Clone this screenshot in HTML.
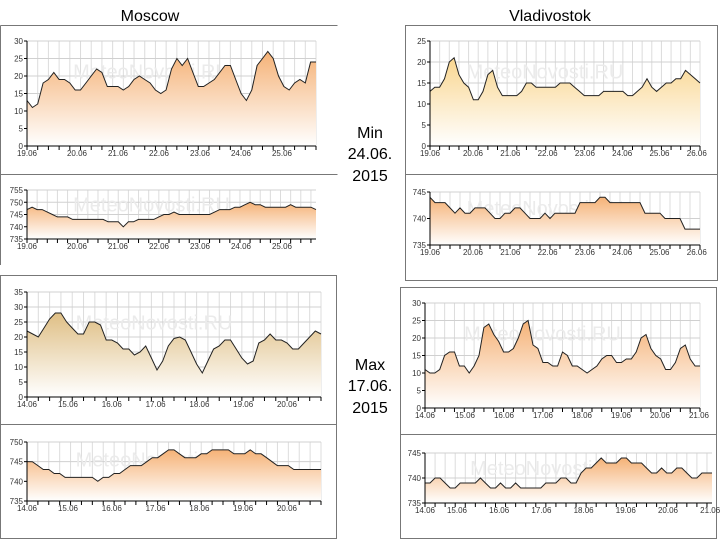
<!DOCTYPE html>
<html><head><meta charset="utf-8"><style>
html,body{margin:0;padding:0;background:#fff;}
svg{display:block;font-family:"Liberation Sans",sans-serif;}
</style></head><body>
<svg id="root" width="720" height="540" viewBox="0 0 720 540">
<defs>
<linearGradient id="gOrange" x1="0" y1="0" x2="0" y2="1"><stop offset="0" stop-color="#f5b277"/><stop offset="1" stop-color="#ffffff"/></linearGradient>
<linearGradient id="gYellow" x1="0" y1="0" x2="0" y2="1"><stop offset="0" stop-color="#f9d690"/><stop offset="1" stop-color="#ffffff"/></linearGradient>
<linearGradient id="gTan" x1="0" y1="0" x2="0" y2="1"><stop offset="0" stop-color="#dfbf85"/><stop offset="1" stop-color="#ffffff"/></linearGradient>
</defs>
<text x="150" y="21" font-size="16" text-anchor="middle">Moscow</text>
<text x="550" y="21" font-size="16" text-anchor="middle">Vladivostok</text>
<g font-size="16" text-anchor="middle">
<text x="370" y="138">Min</text><text x="370" y="159">24.06.</text><text x="370" y="181">2015</text></g>
<g font-size="16" text-anchor="middle">
<text x="370" y="370">Max</text><text x="370" y="391">17.06.</text><text x="370" y="413">2015</text></g>
<g fill="none" stroke="#777" stroke-width="1">
<path d="M0.5 25.5H337.5M0.5 174.5H337.5M0.5 25.5V265"/>
<rect x="405.5" y="25.5" width="312" height="255"/><path d="M405.5 174.5H717.5"/>
<rect x="0.5" y="275.5" width="336" height="263"/><path d="M0.5 424.5H336.5"/>
<rect x="400.5" y="287.5" width="316" height="251"/><path d="M400.5 434.5H716.5"/>
</g>
</svg>
<script>
const mskMinTemp=[13,11,12,18,19,21,19,19,18,16,16,18,20,22,21,17,17,17,16,17,19,20,19,18,16,15,16,22,25,23,25,21,17,17,18,19,21,23,23,19,15,13,16,23,25,27,25,20,17,16,18,19,18,24,24];
const mskMinPres=[747,748,747,747,746,745,744,744,744,743,743,743,743,743,743,743,742,742,742,740,742,742,743,743,743,743,744,745,745,746,745,745,745,745,745,745,745,746,747,747,747,748,748,749,750,749,749,748,748,748,748,748,749,748,748,748,748,747];
const vlaMinTemp=[13,14,14,16,20,21,17,15,14,11,11,13,17,18,14,12,12,12,12,13,15,15,14,14,14,14,14,15,15,15,14,13,12,12,12,12,13,13,13,13,13,12,12,13,14,16,14,13,14,15,15,16,16,18,17,16,15];
const vlaMinPres=[744,743,743,743,742,741,742,741,741,742,742,742,741,740,740,741,741,742,742,741,740,740,740,741,740,741,741,741,741,741,743,743,743,743,744,744,743,743,743,743,743,743,743,741,741,741,741,740,740,740,740,738,738,738,738];
const mskMaxTemp=[22,21,20,23,26,28,28,25,23,21,21,25,25,24,19,19,18,16,16,14,15,17,13,9,12,17,19.5,20,19,15,11,8,12,16,17,19,19,16,13,11,12,18,19,21,19,19,18,16,16,18,20,22,21];
const mskMaxPres=[745,745,744,743,743,742,742,741,741,741,741,741,741,740,741,741,742,742,743,744,744,744,745,746,746,747,748,748,747,746,746,746,747,747,748,748,748,748,747,747,747,748,747,747,746,745,744,744,744,743,743,743,743,743,743];
const vlaMaxTemp=[11,10,10,11,15,16,16,12,12,10,12,15,23,24,21,19,16,16,17,20,24,25,18,17,13,13,12,12,16,15,12,12,11,10,11,12,14,15,15,13,13,14,14,16,20,21,17,15,14,11,11,13,17,18,14,12,12];
const vlaMaxPres=[739,739,740,740,739,738,738,739,739,739,739,740,739,738,738,739,738,738,739,738,738,738,738,738,739,739,739,740,740,739,739,741,742,742,743,744,743,743,743,744,744,743,743,743,742,741,741,742,741,741,742,742,741,740,740,741,741,741];
const mskMinDays=["19.06","20.06","21.06","22.06","23.06","24.06","25.06"];
const vlaMinDays=["19.06","20.06","21.06","22.06","23.06","24.06","25.06","26.06"];
const mskMaxDays=["14.06","15.06","16.06","17.06","18.06","19.06","20.06"];
const vlaMaxDays=["14.06","15.06","16.06","17.06","18.06","19.06","20.06","21.06"];
const tempTicks30=[0,5,10,15,20,25,30];
const tempTicks25=[0,5,10,15,20,25];
const tempTicks35=[0,5,10,15,20,25,30,35];
const presTicksA=[735,740,745,750,755];
const presTicksB=[735,740,745];
const presTicksC=[735,740,745,750];

const svg=document.getElementById('root');
const NS='http://www.w3.org/2000/svg';
function mk(tag,attrs,parent){const e=document.createElementNS(NS,tag);for(const k in attrs)e.setAttribute(k,attrs[k]);parent.appendChild(e);return e;}

function drawChart(name,vals,ticks,days,g){
  const grp=mk('g',{},svg);
  
  
  const vmin=ticks[0],vmax=ticks[ticks.length-1];
  const sx=i=>g.x0+i*(g.x1-g.x0)/(vals.length-1);
  const sy=v=>g.yb-(v-vmin)/(vmax-vmin)*(g.yb-g.yt);
  // vertical grid
  for(let i=0;i<vals.length;i+=2){mk('line',{x1:sx(i),x2:sx(i),y1:g.yt,y2:g.yb,stroke:'#dcdcdc','stroke-width':1},grp);}
  ticks.forEach(t=>{mk('line',{x1:g.x0,x2:g.x1,y1:sy(t),y2:sy(t),stroke:'#d0d0d0','stroke-width':1},grp);});
  // watermark
  const wm=mk('text',{x:(g.x0+g.x1)/2-20,y:g.yt+(g.yb-g.yt)*0.28+8,'font-size':20,fill:'#ebebeb','text-anchor':'middle'},grp);
  wm.textContent='MeteoNovosti.RU';
  
  
  let d='M'+sx(0)+' '+sy(vals[0]);
  for(let i=1;i<vals.length;i++)d+=' L'+sx(i).toFixed(1)+' '+sy(vals[i]).toFixed(1);
  const area=mk('path',{d:d+' L'+sx(vals.length-1)+' '+g.yb+' L'+g.x0+' '+g.yb+' Z',fill:'url(#'+g.fill+')',stroke:'none'},grp);
  
  
  const line=mk('path',{d:d,fill:'none',stroke:'#222','stroke-width':1},grp);
  
  
  // axes
  mk('line',{x1:g.x0,x2:g.x0,y1:g.yt,y2:g.yb,stroke:'#000','stroke-width':1},grp);
  mk('line',{x1:g.x0,x2:g.x1,y1:g.yb,y2:g.yb,stroke:'#000','stroke-width':1},grp);
  ticks.forEach(t=>{
    mk('line',{x1:g.x0-3,x2:g.x0,y1:sy(t),y2:sy(t),stroke:'#000'},grp);
    const tl=mk('text',{x:g.x0-4,y:sy(t)+3,'font-size':8,'text-anchor':'end',fill:'#333'},grp);
    tl.textContent=t;
    
    
  });
  for(let i=0;i<vals.length;i+=2){mk('line',{x1:sx(i),x2:sx(i),y1:g.yb,y2:g.yb+4,stroke:'#000'},grp);}
  days.forEach((dlab,i)=>{
    const x=i===0?g.x0:g.ls+(i-1)*g.lstep;
    const tl=mk('text',{x:x,y:g.yb+10,'font-size':8,'text-anchor':'middle',fill:'#333'},grp);
    tl.textContent=dlab;
    
    
  });
}
drawChart('moscow-min-temp-chart',mskMinTemp,tempTicks30,mskMinDays,{x0:27,x1:316,yt:41,yb:146,fill:'gOrange',ls:77,lstep:41});
drawChart('moscow-min-pressure-chart',mskMinPres,presTicksA,mskMinDays,{x0:27,x1:316,yt:190,yb:239,fill:'gOrange',ls:77,lstep:41});
drawChart('vladivostok-min-temp-chart',vlaMinTemp,tempTicks25,vlaMinDays,{x0:430,x1:700,yt:41,yb:146,fill:'gYellow',ls:473,lstep:37.3});
drawChart('vladivostok-min-pressure-chart',vlaMinPres,presTicksB,vlaMinDays,{x0:430,x1:700,yt:192,yb:245,fill:'gOrange',ls:473,lstep:37.3});
drawChart('moscow-max-temp-chart',mskMaxTemp,tempTicks35,mskMaxDays,{x0:27,x1:321,yt:292,yb:397,fill:'gTan',ls:68,lstep:43.8});
drawChart('moscow-max-pressure-chart',mskMaxPres,presTicksC,mskMaxDays,{x0:27,x1:321,yt:442,yb:501,fill:'gOrange',ls:68,lstep:43.8});
drawChart('vladivostok-max-temp-chart',vlaMaxTemp,tempTicks30,vlaMaxDays,{x0:425,x1:700,yt:303,yb:408,fill:'gOrange',ls:465,lstep:39});
drawChart('vladivostok-max-pressure-chart',vlaMaxPres,presTicksB,vlaMaxDays,{x0:425,x1:712,yt:453,yb:503,fill:'gOrange',ls:457,lstep:42.2});
</script>
</body></html>
